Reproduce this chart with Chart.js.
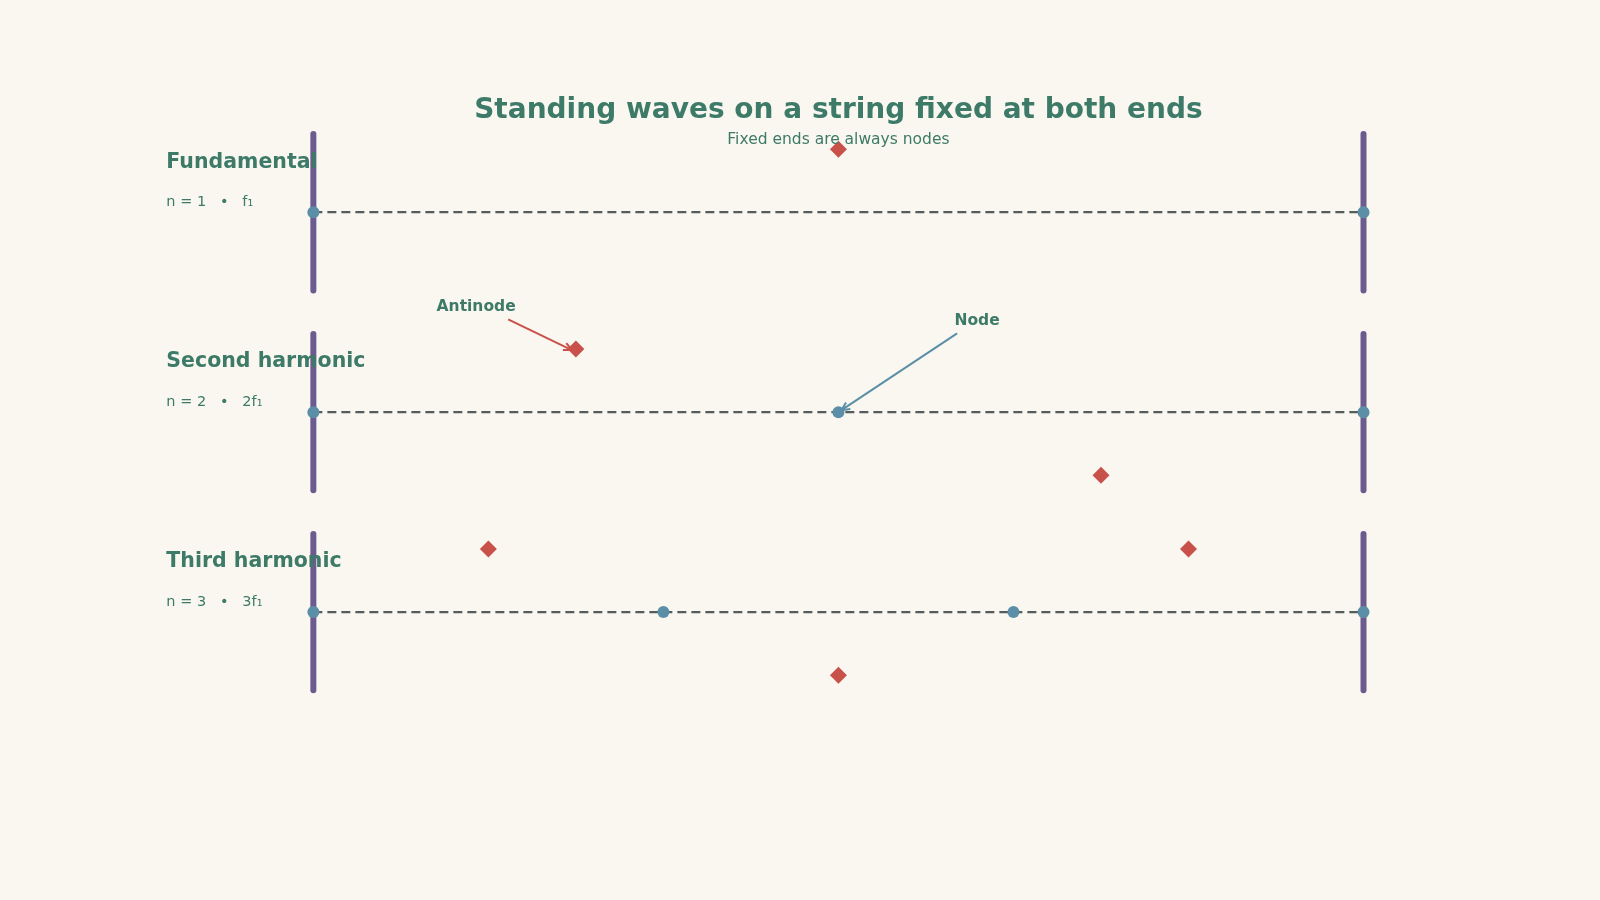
<!DOCTYPE html>
<html><head><meta charset="utf-8">
<script src="https://cdn.jsdelivr.net/npm/chart.js@4"></script>
<style>html,body{margin:0;padding:0;background:#faf7f0;}#wrap{width:1600px;height:900px;}</style>
</head><body><div id="wrap"><canvas id="c" width="1600" height="900"></canvas></div>
<script>
const modeNames = ["Fundamental", "Second harmonic", "Third harmonic"];
const modeSubs = ["n = 1   •   f\u2081", "n = 2   •   2f\u2081", "n = 3   •   3f\u2081"];
const harmonics = [1, 2, 3];
const rowBaselines = [6.34, 3.17, 0];
const nodeX = [[0, 1], [0, 0.5, 1], [0, 1/3, 2/3, 1]];
const antinodeX = [[0.5], [0.25, 0.75], [1/6, 0.5, 5/6]];
const antinodeY = [[1], [1, -1], [1, -1, 1]];
const clampHalf = 1.24;

const GREEN = "#3d7a68", PURPLE = "#6b5b8e", BLUE = "#5b8fa8", RED = "#c8524a", GREY = "#555c5e";
const datasets = [];
rowBaselines.forEach((b, i) => {
  datasets.push({data:[{x:0,y:b},{x:1,y:b}], borderColor:GREY, borderWidth:2.2, borderDash:[9,5], pointRadius:0, order:3});
  datasets.push({data:[{x:0,y:b-clampHalf},{x:0,y:b+clampHalf}], borderColor:PURPLE, borderWidth:6, borderCapStyle:'round', pointRadius:0, order:2});
  datasets.push({data:[{x:1,y:b-clampHalf},{x:1,y:b+clampHalf}], borderColor:PURPLE, borderWidth:6, borderCapStyle:'round', pointRadius:0, order:2});
  datasets.push({data:nodeX[i].map(x=>({x, y:b})), showLine:false, pointRadius:6, pointBackgroundColor:BLUE, pointBorderWidth:0, order:1});
  datasets.push({data:antinodeX[i].map((x,k)=>({x, y:b+antinodeY[i][k]})), showLine:false, pointStyle:'rectRot', pointRadius:8.5, pointBackgroundColor:RED, pointBorderWidth:0, order:1});
});

function arrow(ctx, x1, y1, x2, y2, col) {
  ctx.strokeStyle = col; ctx.lineWidth = 2;
  ctx.beginPath(); ctx.moveTo(x1,y1); ctx.lineTo(x2,y2); ctx.stroke();
  const a = Math.atan2(y2-y1, x2-x1), L = 9;
  ctx.beginPath();
  ctx.moveTo(x2 - L*Math.cos(a-0.45), y2 - L*Math.sin(a-0.45));
  ctx.lineTo(x2, y2);
  ctx.lineTo(x2 - L*Math.cos(a+0.45), y2 - L*Math.sin(a+0.45));
  ctx.stroke();
}

const FONT = '"DejaVu Sans", Verdana, sans-serif';
const textPlugin = {
  id:'texts',
  beforeDraw(chart){ const c=chart.ctx; c.save(); c.fillStyle="#faf7f0"; c.fillRect(0,0,chart.width,chart.height); c.restore(); },
  afterDraw(chart){
    const c = chart.ctx, xs = chart.scales.x, ys = chart.scales.y;
    const X = v => xs.getPixelForValue(v), Y = v => ys.getPixelForValue(v);
    c.save();
    c.fillStyle = GREEN; c.textAlign = 'center'; c.textBaseline = 'middle';
    c.font = 'bold 28px ' + FONT;
    c.fillText("Standing waves on a string fixed at both ends", X(0.5), 111);
    c.font = '15.5px ' + FONT;
    c.fillText("Fixed ends are always nodes", X(0.5), 140);
    c.textAlign = 'left';
    rowBaselines.forEach((b,i) => {
      c.font = 'bold 20.5px ' + FONT; c.fillText(modeNames[i], X(-0.14), Y(b) - 50);
      c.font = '14.5px ' + FONT; c.fillText(modeSubs[i], X(-0.14), Y(b) - 10);
    });
    c.font = 'bold 15.5px ' + FONT; c.textAlign = 'center';
    c.fillText("Antinode", X(0.155), Y(4.83));
    c.fillText("Node", X(0.632), Y(4.62));
    arrow(c, X(0.1855), Y(4.64), X(0.25)-4, Y(rowBaselines[1]+1)+1, RED);
    arrow(c, X(0.613), Y(4.42), X(0.5)+3, Y(rowBaselines[1])-2, BLUE);
    c.restore();
  }
};

new Chart(document.getElementById('c'), {
  type:'line',
  data:{datasets},
  options:{
    responsive:false, animation:false, devicePixelRatio:1,
    layout:{padding:0},
    plugins:{legend:{display:false}, tooltip:{enabled:false}, title:{display:false}},
    scales:{
      x:{type:'linear', display:false, min:-0.2903, max:1.2171},
      y:{type:'linear', display:false, min:-4.43, max:9.57}
    }
  },
  plugins:[textPlugin]
});
</script></body></html>
